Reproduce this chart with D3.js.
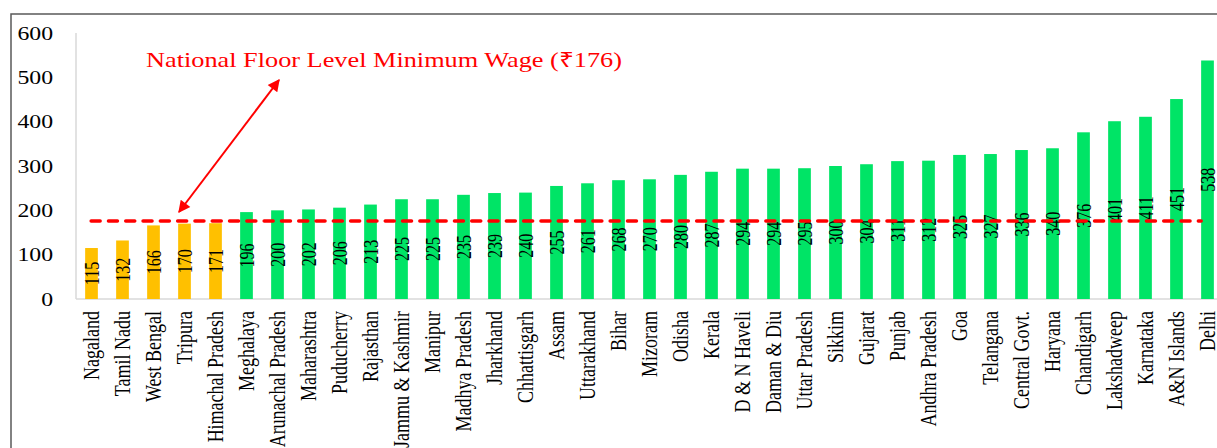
<!DOCTYPE html>
<html>
<head>
<meta charset="utf-8">
<script src="https://cdn.jsdelivr.net/npm/d3@7/dist/d3.min.js"></script>
<style>
  html, body { margin: 0; padding: 0; background: #fff; }
  svg { display: block; }
</style>
</head>
<body>
<svg id="chart" width="1217" height="448"></svg>
<script>
(function () {
  'use strict';

  // ── Data ────────────────────────────────────────────────────────────────────
  const states = [
    'Nagaland', 'Tamil Nadu', 'West Bengal', 'Tripura', 'Himachal Pradesh',
    'Meghalaya', 'Arunachal Pradesh', 'Maharashtra', 'Puducherry', 'Rajasthan',
    'Jammu & Kashmir', 'Manipur', 'Madhya Pradesh', 'Jharkhand', 'Chhattisgarh',
    'Assam', 'Uttarakhand', 'Bihar', 'Mizoram', 'Odisha', 'Kerala',
    'D & N Haveli', 'Daman & Diu', 'Uttar Pradesh', 'Sikkim', 'Gujarat',
    'Punjab', 'Andhra Pradesh', 'Goa', 'Telangana', 'Central Govt.', 'Haryana',
    'Chandigarh', 'Lakshadweep', 'Karnataka', 'A&N Islands', 'Delhi'
  ];
  const wages = [
    115, 132, 166, 170, 171, 196, 200, 202, 206, 213, 225, 225, 235, 239, 240,
    255, 261, 268, 270, 280, 287, 294, 294, 295, 300, 304, 311, 312, 325, 327,
    336, 340, 376, 401, 411, 451, 538
  ];
  const yTicks = [0, 100, 200, 300, 400, 500, 600];
  const floorWage = 176;
  const floorLabel = 'National Floor Level Minimum Wage (\u20B9176)';

  // ── Layout ──────────────────────────────────────────────────────────────────
  const FONT = '"Liberation Serif", "Times New Roman", serif';
  const SX = 1.25; // source image is stretched horizontally
  const plot = { left: 76, right: 1223, top: 33, bottom: 299 };

  const svg = d3.select('#chart');

  // outer frame
  svg.append('rect')
    .attr('x', 11).attr('y', 14)
    .attr('width', 1240).attr('height', 460)
    .attr('fill', 'none')
    .attr('stroke', '#595959')
    .attr('stroke-width', 1.5);

  const x = d3.scaleBand()
    .domain(states)
    .range([plot.left, plot.right])
    .paddingInner(0.59)
    .paddingOuter(0.295);

  const y = d3.scaleLinear()
    .domain([0, 600])
    .range([plot.bottom, plot.top]);

  // ── Axes ────────────────────────────────────────────────────────────────────
  svg.append('line')
    .attr('x1', plot.left).attr('x2', plot.left)
    .attr('y1', y(600)).attr('y2', y(0))
    .attr('stroke', '#d9d9d9').attr('stroke-width', 1.5);

  svg.append('line')
    .attr('x1', plot.left).attr('x2', plot.right)
    .attr('y1', y(0)).attr('y2', y(0))
    .attr('stroke', '#d9d9d9').attr('stroke-width', 1.5);

  svg.append('g')
    .selectAll('text')
    .data(yTicks)
    .join('text')
    .attr('transform', d => `translate(53,${y(d)}) scale(${SX},1)`)
    .attr('dy', '0.35em')
    .attr('text-anchor', 'end')
    .attr('font-family', FONT)
    .attr('font-size', 19)
    .attr('fill', '#000')
    .text(d => d);

  svg.append('g')
    .selectAll('text')
    .data(states)
    .join('text')
    .attr('transform', d => `translate(${x(d) + x.bandwidth() / 2},311) scale(${SX},1) rotate(-90)`)
    .attr('dy', '0.32em')
    .attr('text-anchor', 'end')
    .attr('font-family', FONT)
    .attr('font-size', 18)
    .attr('fill', '#000')
    .text(d => d);

  // ── Bars ────────────────────────────────────────────────────────────────────
  const data = states.map((s, i) => ({ state: s, value: wages[i] }));

  svg.append('g')
    .selectAll('rect')
    .data(data)
    .join('rect')
    .attr('x', d => x(d.state))
    .attr('y', d => y(d.value))
    .attr('width', x.bandwidth())
    .attr('height', d => y(0) - y(d.value))
    .attr('fill', d => d.value < floorWage ? '#FFC000' : '#00E466');

  // value labels, centred in each bar
  svg.append('g')
    .selectAll('text')
    .data(data)
    .join('text')
    .attr('transform', d => {
      const cx = x(d.state) + x.bandwidth() / 2;
      const cy = (y(d.value) + y(0)) / 2;
      return `translate(${cx},${cy}) scale(${SX},1) rotate(-90)`;
    })
    .attr('dy', '0.35em')
    .attr('text-anchor', 'middle')
    .attr('font-family', FONT)
    .attr('font-size', 16)
    .attr('fill', '#000')
    .text(d => d.value);

  // ── Floor line + annotation ─────────────────────────────────────────────────
  svg.append('line')
    .attr('x1', x(states[0]) + 6)
    .attr('x2', x(states[states.length - 1]))
    .attr('y1', y(floorWage)).attr('y2', y(floorWage))
    .attr('stroke', '#FF0000')
    .attr('stroke-width', 3.5)
    .attr('stroke-linecap', 'round')
    .attr('stroke-dasharray', '9 8.3');

  const defs = svg.append('defs');
  ['start', 'end'].forEach(k => {
    defs.append('marker')
      .attr('id', 'arrow-' + k)
      .attr('viewBox', '0 -5 10 10')
      .attr('refX', 9).attr('refY', 0)
      .attr('markerUnits', 'userSpaceOnUse')
      .attr('markerWidth', 14).attr('markerHeight', 12)
      .attr('orient', k === 'start' ? 'auto-start-reverse' : 'auto')
      .append('path')
      .attr('d', 'M0,-5L10,0L0,5Z')
      .attr('fill', '#FF0000');
  });

  svg.append('line')
    .attr('x1', 179).attr('y1', 212)
    .attr('x2', 279).attr('y2', 80)
    .attr('stroke', '#FF0000')
    .attr('stroke-width', 2)
    .attr('marker-start', 'url(#arrow-start)')
    .attr('marker-end', 'url(#arrow-end)');

  svg.append('text')
    .attr('x', 146).attr('y', 67)
    .attr('font-family', FONT)
    .attr('font-size', 21)
    .attr('fill', '#FF0000')
    .attr('textLength', 476)
    .attr('lengthAdjust', 'spacingAndGlyphs')
    .text(floorLabel);
})();
</script>
</body>
</html>
